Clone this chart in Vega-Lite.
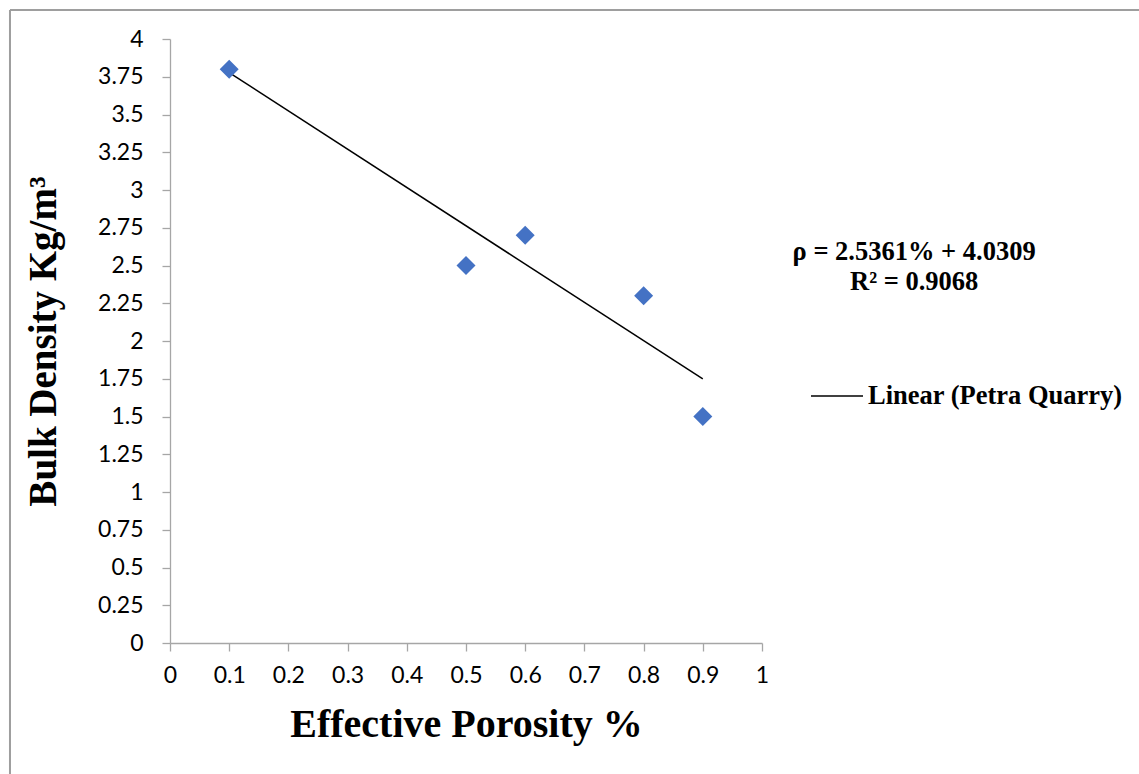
{
  "$schema": "https://vega.github.io/schema/vega-lite/v6.json",
  "width": 592,
  "height": 604,
  "autosize": {"type": "none"},
  "padding": {"left": 170, "top": 39, "right": 377, "bottom": 131},
  "background": "white",
  "config": {
    "view": {"stroke": null},
    "axis": {
      "grid": false,
      "domainColor": "#A6A6A6",
      "domainWidth": 1.3,
      "tickColor": "#A6A6A6",
      "tickWidth": 1.3,
      "tickSize": 8,
      "labelFont": "Lato",
      "labelFontSize": 23,
      "labelColor": "#000000",
      "labelOverlap": false,
      "labelFlush": false,
      "titleFont": "Liberation Serif",
      "titleFontWeight": "bold",
      "titleColor": "#000000"
    }
  },
  "datasets": {
    "points": [
      {"porosity": 0.1, "density": 3.8},
      {"porosity": 0.5, "density": 2.5},
      {"porosity": 0.6, "density": 2.7},
      {"porosity": 0.8, "density": 2.3},
      {"porosity": 0.9, "density": 1.5}
    ],
    "notes": [
      {"x": 1.257, "y": 2.59, "label": "ρ = 2.5361% + 4.0309"},
      {"x": 1.257, "y": 2.39, "label": "R² = 0.9068"}
    ],
    "frameH": [{"x": -0.2703, "x2": 1.64, "y": 4.192}],
    "frameV": [{"x": -0.2703, "y": 4.192, "y2": -0.87}]
  },
  "encoding": {
    "x": {
      "field": "porosity",
      "type": "quantitative",
      "scale": {"domain": [0, 1], "nice": false},
      "axis": {
        "title": "Effective Porosity %",
        "titleFontSize": 40,
        "titlePadding": 17,
        "values": [0, 0.1, 0.2, 0.3, 0.4, 0.5, 0.6, 0.7, 0.8, 0.9, 1],
        "format": ".3~g",
        "labelFontSize": 23,
        "labelOverlap": false,
        "labelPadding": 13
      }
    },
    "y": {
      "field": "density",
      "type": "quantitative",
      "scale": {"domain": [0, 4], "nice": false},
      "axis": {
        "title": "Bulk Density Kg/m³",
        "titleFontSize": 39,
        "titlePadding": 34,
        "values": [0, 0.25, 0.5, 0.75, 1, 1.25, 1.5, 1.75, 2, 2.25, 2.5, 2.75, 3, 3.25, 3.5, 3.75, 4],
        "format": ".3~g",
        "labelFontSize": 23,
        "labelOverlap": false,
        "labelPadding": 19
      }
    }
  },
  "layer": [
    {
      "data": {"name": "frameH"},
      "mark": {"type": "rule", "color": "#9E9E9E", "strokeWidth": 2},
      "encoding": {
        "x": {"field": "x", "type": "quantitative"},
        "x2": {"field": "x2"},
        "y": {"field": "y", "type": "quantitative"}
      }
    },
    {
      "data": {"name": "frameV"},
      "mark": {"type": "rule", "color": "#9E9E9E", "strokeWidth": 2},
      "encoding": {
        "x": {"field": "x", "type": "quantitative"},
        "y": {"field": "y", "type": "quantitative"},
        "y2": {"field": "y2"}
      }
    },
    {
      "data": {"name": "points"},
      "transform": [{"regression": "density", "on": "porosity"}],
      "mark": {"type": "line", "strokeWidth": 1.5},
      "encoding": {
        "stroke": {
          "datum": "Linear (Petra Quarry)",
          "type": "nominal",
          "scale": {"range": ["#000000"]},
          "legend": {
            "title": null,
            "orient": "none",
            "legendX": 640,
            "legendY": 330,
            "padding": 0,
            "symbolType": "stroke",
            "symbolSize": 2704,
            "symbolStrokeWidth": 1.5,
            "labelFont": "Liberation Serif",
            "labelFontWeight": "bold",
            "labelFontSize": 26.5,
            "labelColor": "#000000",
            "labelLimit": 400,
            "labelOffset": 4
          }
        }
      }
    },
    {
      "data": {"name": "points"},
      "mark": {"type": "point", "shape": "diamond", "filled": true, "size": 361, "color": "#4472C4", "opacity": 1}
    },
    {
      "data": {"name": "notes"},
      "mark": {"type": "text", "font": "Liberation Serif", "fontWeight": "bold", "fontSize": 26.5, "color": "#000000", "align": "center", "baseline": "middle"},
      "encoding": {
        "x": {"field": "x", "type": "quantitative"},
        "y": {"field": "y", "type": "quantitative"},
        "text": {"field": "label"}
      }
    }
  ]
}
